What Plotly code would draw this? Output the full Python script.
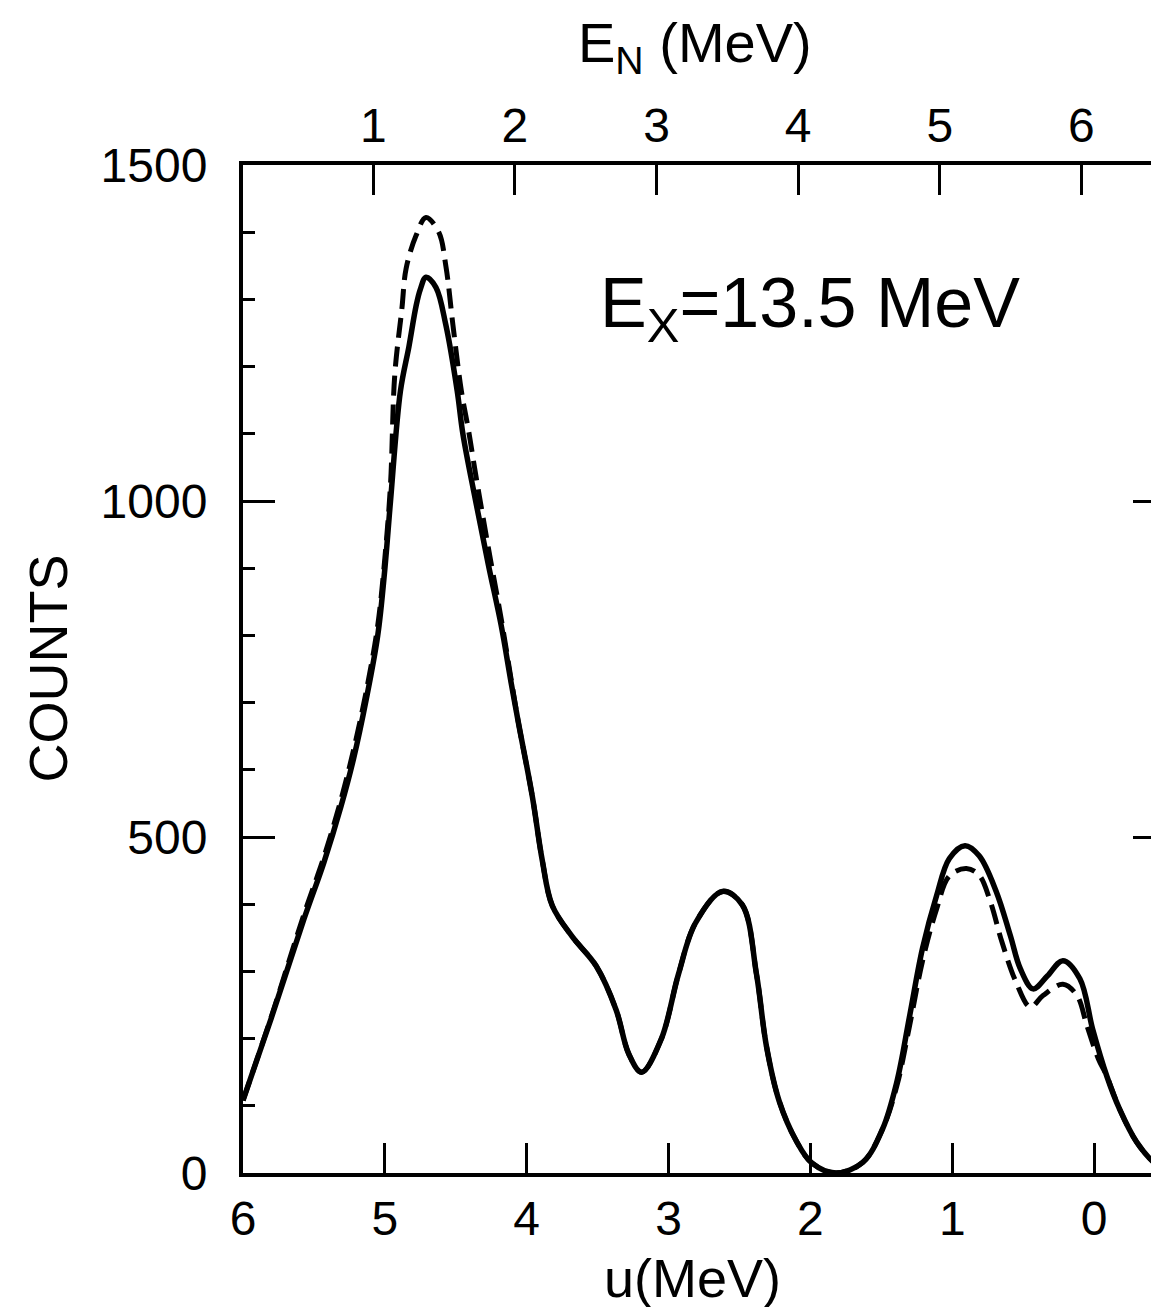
import plotly.graph_objects as go

# ---- data ----
u_solid = [6.00, 5.80, 5.57, 5.43, 5.31, 5.22, 5.13, 5.05, 5.00, 4.96, 4.89, 4.83, 4.78, 4.75,
           4.71, 4.64, 4.57, 4.49, 4.45, 4.36, 4.27, 4.18, 4.11, 4.06, 3.96, 3.89, 3.82, 3.68,
           3.51, 3.37, 3.28, 3.19, 3.05, 2.93, 2.81, 2.62, 2.48, 2.38, 2.31, 2.22, 2.10, 1.99,
           1.82, 1.63, 1.49, 1.39, 1.30, 1.21, 1.11, 1.02, 0.91, 0.81, 0.69, 0.59, 0.52, 0.43,
           0.33, 0.22, 0.10, 0.01, -0.09, -0.18, -0.30, -0.42, -0.50]
counts_solid = [108, 231, 378, 462, 545, 617, 706, 800, 899, 1000, 1164, 1230, 1290, 1315,
                1333, 1318, 1262, 1164, 1100, 1000, 905, 815, 730, 672, 560, 465, 398, 352,
                308, 243, 177, 150, 200, 296, 372, 419, 399, 296, 189, 107, 48, 15,
                0, 16, 66, 136, 234, 334, 413, 468, 487, 472, 419, 353, 304, 274,
                293, 316, 289, 214, 144, 95, 46, 16, 5]

u_dashed = [6.00, 5.80, 5.57, 5.43, 5.31, 5.22, 5.13, 5.05, 5.00, 4.96, 4.93, 4.88, 4.85, 4.78,
            4.71, 4.62, 4.57, 4.52, 4.46, 4.41, 4.36, 4.27, 4.18, 4.11, 4.06, 3.96, 3.89, 3.82,
            3.68, 3.51, 3.37, 3.28, 3.19, 3.05, 2.93, 2.81, 2.62, 2.48, 2.38, 2.31, 2.22, 2.10,
            1.99, 1.82, 1.63, 1.49, 1.39, 1.30, 1.21, 1.11, 1.02, 0.90, 0.81, 0.73, 0.65, 0.55,
            0.45, 0.36, 0.22, 0.12, 0.05, -0.03, -0.09, -0.18, -0.30, -0.42, -0.50]
counts_dashed = [108, 233, 385, 470, 555, 630, 718, 815, 915, 1025, 1188, 1286, 1346, 1395,
                 1422, 1400, 1350, 1262, 1163, 1105, 1040, 930, 825, 735, 672, 560, 465, 398,
                 352, 308, 243, 177, 150, 200, 296, 372, 419, 399, 296, 189, 107, 48,
                 15, 0, 16, 66, 130, 220, 315, 393, 442, 453, 443, 403, 344, 284,
                 247, 264, 281, 264, 219, 170, 144, 95, 46, 16, 5]

u_range = [6.0, -0.5]
en_range = [0.08, 6.59]
en_ticks = [1, 2, 3, 4, 5, 6]
u_ticks = [6, 5, 4, 3, 2, 1, 0]
count_ticks = [0, 500, 1000, 1500]

FONT = "Liberation Sans, Arial, sans-serif"

fig = go.Figure()
fig.add_trace(go.Scatter(x=u_dashed, y=counts_dashed, mode="lines",
                         line=dict(color="black", width=5, dash="20px,9px", shape="spline", smoothing=1.0),
                         showlegend=False, hoverinfo="skip"))
fig.add_trace(go.Scatter(x=u_solid, y=counts_solid, mode="lines",
                         line=dict(color="black", width=5.5, shape="spline", smoothing=1.0),
                         showlegend=False))
# invisible trace that activates the top E_N axis
fig.add_trace(go.Scatter(x=[en_range[0]], y=[0], xaxis="x2", mode="markers",
                         marker=dict(opacity=0, size=1), showlegend=False, hoverinfo="skip"))

fig.update_layout(
    width=1159, height=1307,
    margin=dict(l=235, r=2, t=157, b=142, autoexpand=False),
    paper_bgcolor="white", plot_bgcolor="white",
    font=dict(family=FONT, color="black", size=48),
    xaxis=dict(range=u_range, tickvals=u_ticks, ticks="inside", ticklen=30, tickwidth=3,
               tickcolor="black", showline=True, linewidth=4, linecolor="black", mirror=True,
               showgrid=False, zeroline=False, ticklabelstandoff=0, automargin=False,
               tickfont=dict(size=48)),
    xaxis2=dict(range=en_range, overlaying="x", side="top", tickvals=en_ticks,
                ticks="inside", ticklen=30, tickwidth=3, tickcolor="black",
                showline=False, showgrid=False, zeroline=False, ticklabelstandoff=12,
                automargin=False, tickfont=dict(size=48)),
    yaxis=dict(range=[0, 1500], tickvals=count_ticks, ticks="inside", ticklen=32, tickwidth=3,
               tickcolor="black", showline=True, linewidth=4, linecolor="black", mirror="ticks",
               showgrid=False, zeroline=False, ticklabelstandoff=22, automargin=False,
               minor=dict(dtick=100, ticks="inside", ticklen=12, tickwidth=3, tickcolor="black"),
               tickfont=dict(size=48)),
    annotations=[
        dict(text="E<sub>X</sub>=13.5 MeV", xref="paper", yref="paper", x=0.615, y=0.858,
             showarrow=False, font=dict(size=70, family=FONT), xanchor="center", yanchor="middle"),
        dict(text="COUNTS", xref="paper", yref="paper", x=-0.212, y=0.5, textangle=-90,
             showarrow=False, font=dict(size=54, family=FONT), xanchor="center", yanchor="middle"),
        dict(text="u(MeV)", xref="paper", yref="paper", x=0.488, y=-0.104,
             showarrow=False, font=dict(size=54, family=FONT), xanchor="center", yanchor="middle"),
        dict(text="E<sub>N</sub> (MeV)", xref="paper", yref="paper", x=0.49, y=1.118,
             showarrow=False, font=dict(size=56, family=FONT), xanchor="center", yanchor="middle"),
    ],
)

fig.write_html("out.html")
